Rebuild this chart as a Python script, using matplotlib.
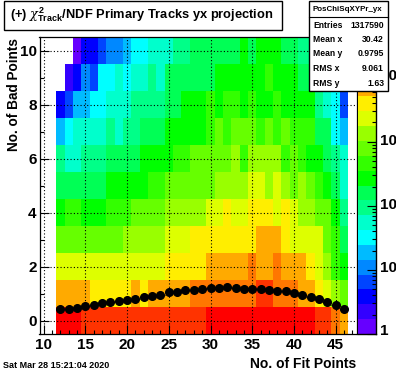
"""ROOT-style 2D histogram: chi2/NDF primary tracks, bad points vs fit points."""

import matplotlib

matplotlib.use("Agg")
import matplotlib.pyplot as plt
import numpy as np
from matplotlib.colors import BoundaryNorm, ListedColormap
from matplotlib.patches import Rectangle
from matplotlib.ticker import FixedLocator, NullFormatter

plt.rcParams["font.family"] = ["Liberation Sans", "DejaVu Sans"]
plt.rcParams["mathtext.fontset"] = "custom"
plt.rcParams["mathtext.rm"] = "Liberation Sans:bold"
plt.rcParams["mathtext.it"] = "DejaVu Serif:italic"
plt.rcParams["mathtext.bf"] = "Liberation Sans:bold"

W, H = 396, 372

palette = [
    "#6600ff", "#3300ff", "#0000ff", "#0044ff", "#0088ff",
    "#00bbff", "#00ffff", "#00ffcc", "#00ff88", "#00ff55",
    "#00ff00", "#33ff00", "#66ff00", "#99ff00", "#ddff00",
    "#ffee00", "#ffaa00", "#ff7700", "#ff3300", "#ff0000",
]
z_max = 43000

fit_points = list(range(12, 47))
bad_points = list(range(0, 11))

# palette level of each cell, one list per No. of Bad Points (-1 = empty)
row_0 = [19, 19, 19, 18, 18, 18, 18, 18, 18, 18, 18, 18, 18, 18, 18, 18, 18, 18,
         19, 19, 19, 19, 19, 19, 19, 19, 19, 19, 19, 19, 19, 18, 18, 17, 16]
row_1 = [16, 16, 16, 16, 15, 15, 15, 15, 15, 16, 15, 16, 16, 16, 16, 16, 17, 17,
         17, 17, 17, 17, 17, 17, 18, 18, 17, 17, 17, 16, 16, 15, 14, 13, 12]
row_2 = [14, 14, 14, 14, 14, 14, 14, 14, 14, 14, 14, 14, 14, 15, 15, 15, 15, 15,
         16, 16, 16, 16, 16, 17, 16, 16, 17, 16, 16, 16, 15, 14, 13, 11, 10]
row_3 = [12, 12, 12, 12, 12, 12, 12, 12, 13, 13, 13, 13, 13, 14, 14, 14, 15, 15,
         15, 15, 15, 15, 15, 15, 16, 16, 16, 15, 14, 14, 14, 14, 12, 11, 9]
row_4 = [10, 11, 11, 10, 10, 10, 11, 11, 11, 12, 12, 12, 12, 13, 13, 13, 13, 13,
         14, 14, 15, 14, 14, 15, 15, 15, 14, 15, 14, 13, 13, 12, 12, 10, 8]
row_5 = [9, 9, 9, 9, 9, 9, 10, 10, 10, 10, 10, 11, 11, 12, 12, 12, 12, 12,
         12, 13, 13, 13, 13, 14, 14, 13, 14, 13, 12, 13, 12, 11, 10, 9, 7]
row_6 = [8, 7, 7, 8, 8, 8, 9, 9, 9, 9, 10, 10, 10, 10, 11, 11, 12, 12,
         12, 12, 12, 13, 11, 13, 13, 13, 13, 11, 12, 11, 10, 10, 9, 8, 7]
row_7 = [5, 6, 7, 7, 7, 7, 8, 7, 8, 8, 9, 9, 9, 10, 10, 10, 10, 10,
         11, 12, 11, 12, 12, 12, 11, 12, 11, 12, 11, 11, 11, 9, 9, 6, 5]
row_8 = [2, 3, 5, 5, 6, 6, 7, 7, 7, 8, 8, 8, 8, 9, 9, 10, 10, 10,
         11, 10, 11, 11, 10, 11, 10, 10, 11, 10, 10, 10, 10, 8, 7, 6, 3]
row_9 = [-1, 1, 2, 4, 3, 6, 6, 7, 6, 7, 7, 8, 7, 9, 9, 9, 9, 9,
         9, 10, 10, 10, 10, 10, 10, 11, 10, 10, 10, 9, 9, 9, 8, 6, 4]
row_10 = [-1, -1, 0, 2, 2, 3, 4, 4, 5, 6, 6, 7, 7, 7, 8, 8, 9, 9,
          9, 9, 9, 9, 10, 9, 10, 10, 10, 9, 9, 8, 8, 8, 7, 6, 4]

# profile of bad points per fit-points bin
profile = [0.41, 0.44, 0.48, 0.52, 0.59, 0.66, 0.70, 0.74, 0.77, 0.81, 0.885, 0.92,
           0.96, 1.07, 1.07, 1.14, 1.14, 1.18, 1.22, 1.22, 1.25, 1.22, 1.18, 1.18,
           1.18, 1.14, 1.11, 1.11, 1.03, 0.96, 0.885, 0.81, 0.70, 0.59, 0.44]

stats_labels = ["Entries", "Mean x", "Mean y", "RMS x", "RMS y"]
stats_values = ["1317590", "30.42", "0.9795", "9.061", "1.63"]
stats_y = [25, 40, 53.5, 68.5, 83]


def axes_px(fig, x0, y0, x1, y1):
    """add_axes from pixel box, y measured from the top of the picture."""
    return fig.add_axes([x0 / W, 1 - y1 / H, (x1 - x0) / W, (y1 - y0) / H])


def text_px(fig, x, y, s, **kw):
    kw.setdefault("va", "center")
    return fig.text(x / W, 1 - y / H, s, **kw)


def box_px(fig, x0, y0, x1, y1):
    fig.add_artist(Rectangle((x0 / W, 1 - y1 / H), (x1 - x0) / W, (y1 - y0) / H,
                             transform=fig.transFigure, fc="white", ec="black",
                             lw=1.0, zorder=5))


def main():
    fig = plt.figure(figsize=(W / 100, H / 100), dpi=100, facecolor="white")
    cmap = ListedColormap(palette)
    norm = BoundaryNorm(np.arange(-0.5, 20), 20)

    ax = axes_px(fig, 39.5, 37, 356.5, 334)
    grid = np.ma.masked_less(
        np.array([row_0, row_1, row_2, row_3, row_4, row_5, row_6, row_7, row_8, row_9, row_10]), 0
    )
    x_edges = np.append(np.array(fit_points) - 0.5, fit_points[-1] + 0.5)
    y_edges = np.append(np.array(bad_points) - 0.5, bad_points[-1] + 0.5)
    ax.pcolormesh(x_edges, y_edges, grid, cmap=cmap, norm=norm, antialiased=False, zorder=1)
    ax.errorbar(fit_points, profile, xerr=0.5, fmt="o", color="black", ms=5.5, lw=0.8,
                capsize=0, zorder=3)
    ax.set_xlim(9.5, 47.5)
    ax.set_ylim(-0.5, 10.5)
    ax.xaxis.set_major_locator(FixedLocator(range(10, 50, 5)))
    ax.xaxis.set_minor_locator(FixedLocator(range(10, 48)))
    ax.yaxis.set_major_locator(FixedLocator(range(0, 11, 2)))
    ax.yaxis.set_minor_locator(FixedLocator(range(0, 11)))
    ax.tick_params(which="major", direction="in", length=6.5, width=0.8, labelsize=11)
    ax.tick_params(which="minor", direction="in", length=3.2, width=0.8)
    ax.tick_params(axis="x", which="major", pad=3)
    ax.tick_params(axis="y", which="major", pad=2)
    for lab in ax.get_xticklabels() + ax.get_yticklabels():
        lab.set_fontweight("bold")
    ax.grid(True, which="major", color="black", ls=(0, (1, 2)), lw=0.8, zorder=2)
    ax.set_axisbelow(False)
    for sp in ax.spines.values():
        sp.set_linewidth(0.9)

    cax = axes_px(fig, 358, 37, 376, 334)
    edges = np.logspace(0, np.log10(z_max), 21)
    cax.pcolormesh([0, 1], edges, np.arange(20).reshape(-1, 1), cmap=cmap, norm=norm,
                   antialiased=False)
    cax.set_yscale("log")
    cax.set_ylim(1, z_max)
    cax.set_xticks([])
    cax.yaxis.tick_right()
    cax.yaxis.set_major_locator(FixedLocator([1, 10, 100, 1000, 10000]))
    cax.yaxis.set_minor_locator(FixedLocator(
        [m * d for d in (1, 10, 100, 1000, 10000) for m in range(2, 10)]
    ))
    cax.yaxis.set_major_formatter(NullFormatter())
    cax.yaxis.set_minor_formatter(NullFormatter())
    cax.tick_params(which="major", direction="in", length=6.5, width=0.8)
    cax.tick_params(which="minor", direction="in", length=3.2, width=0.8)
    for sp in ("top", "left"):
        cax.spines[sp].set_visible(False)
    for sp in ("right", "bottom"):
        cax.spines[sp].set_linewidth(1.0)
    for y_px, s in [(331, "1"), (268, "10"), (205, "10"), (141, "10"), (76, "10")]:
        text_px(fig, 380, y_px, s, fontsize=11, fontweight="bold", ha="left", zorder=2)

    # title box
    box_px(fig, 3.5, 1, 281.5, 30)
    text_px(fig, 10, 14.5, r"(+) $\mathit{\chi}^{2}_{\mathrm{Track}}$/NDF Primary Tracks yx projection",
            fontsize=9.3, fontweight="bold", ha="left", zorder=6)

    # stats box
    box_px(fig, 308.5, 1, 387.5, 91)
    text_px(fig, 347.5, 9.5, "PosChiSqXYPr_yx", fontsize=5.7, fontweight="bold", ha="center", zorder=6)
    fig.add_artist(plt.Line2D([308.5 / W, 387.5 / W], [1 - 17 / H, 1 - 17 / H], color="black",
                              lw=0.8, zorder=6))
    for lab, val, y_px in zip(stats_labels, stats_values, stats_y):
        text_px(fig, 313, y_px, lab, fontsize=6.2, fontweight="bold", ha="left", zorder=6)
        text_px(fig, 384, y_px, val, fontsize=6.2, fontweight="bold", ha="right", zorder=6)

    # axis titles, placed by hand like the ROOT canvas
    text_px(fig, 14, 38, "No. of Bad Points", fontsize=9.8, fontweight="bold",
            rotation=90, ha="center", va="top")
    text_px(fig, 356, 364, "No. of Fit Points", fontsize=10, fontweight="bold", ha="right")
    text_px(fig, 3, 365, "Sat Mar 28 15:21:04 2020", fontsize=6.5, fontweight="bold", ha="left")

    fig.savefig("out.png", dpi=100)


if __name__ == "__main__":
    main()
